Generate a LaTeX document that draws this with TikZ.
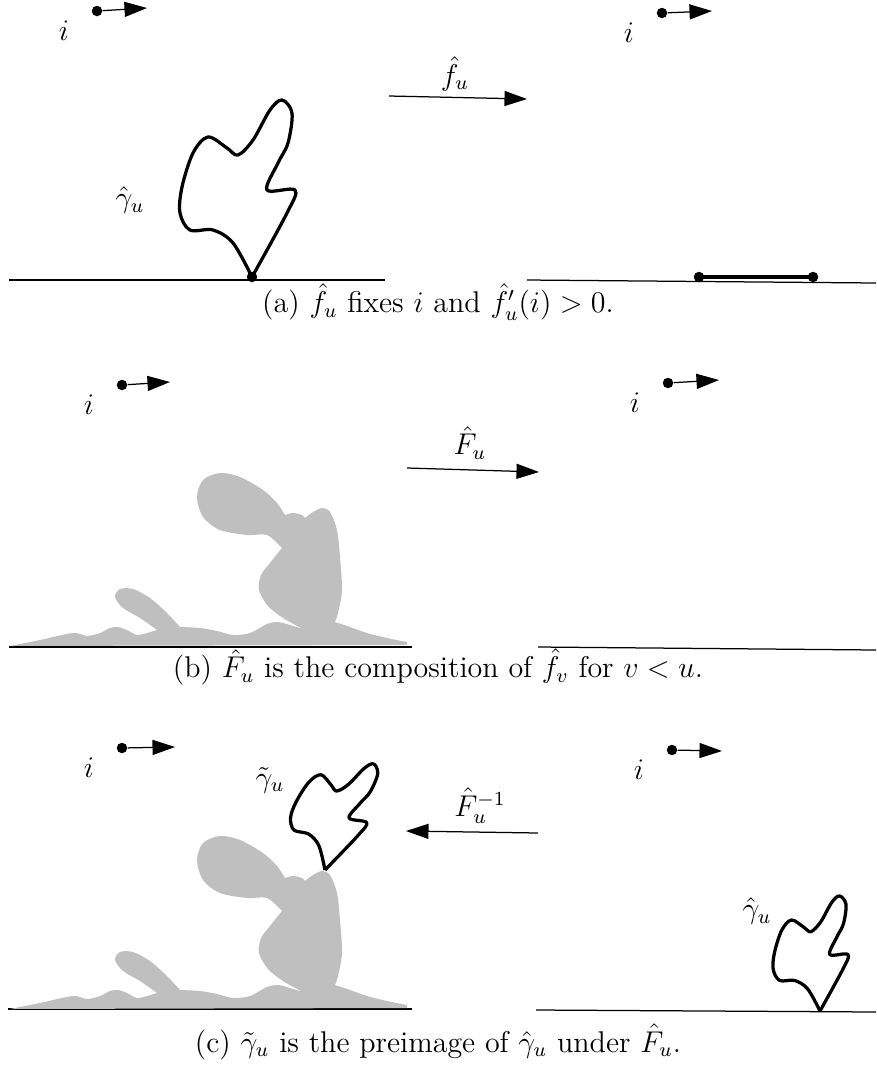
\documentclass[tikz,border=0pt]{standalone}
\usetikzlibrary{arrows.meta}

\tikzset{
  curva/.style={line width=1.3pt, line join=round},
  seta/.style={-{Triangle[length=9pt,width=6pt]}, line width=0.5pt},
  chao/.style={line width=0.5pt},
  mancha/.style={gray!50},
  ponto/.style={circle, fill, inner sep=0pt, minimum size=4.2pt}
}

% curva gama, relativa ao ponto de base
\newcommand{\curvagama}[1]{%
  \draw[curva, #1] plot[smooth, tension=0.55] coordinates {(0,0) (-19,-34) (-39,-47) (-62,-47) (-72,-64) (-70,-90) (-59,-124) (-44,-140) (-25,-129) (-14,-122) (1,-137) (18,-167) (30,-177) (40,-164) (36,-134) (26,-114) (15,-87) (43,-87) (35,-64) (0,0)};}

% mancha cinzenta (coordenadas do painel b)
\newcommand{\manchacinza}[1]{%
  \fill[mancha, #1]
    plot[smooth] coordinates {(10,646) (40,640) (73,633) (87,636) (100,633) (110,628) (118,627) (127,630) (137,635) (147,633) (157,630)}
    -- plot[smooth] coordinates {(157,630) (140,618) (123,608) (115,597) (120,589) (133,589) (150,598) (167,613) (180,627)}
    -- plot[smooth] coordinates {(180,627) (200,628) (217,631) (233,635) (250,633) (267,624) (278,622) (290,625) (303,629)}
    -- plot[smooth] coordinates {(303,629) (283,618) (268,606) (259,590) (261,575) (270,563) (282,548)}
    -- plot[smooth] coordinates {(282,548) (267,535) (247,535) (220,530) (203,517) (197,497) (203,480) (220,473) (240,477) (263,490) (277,503) (285,515)}
    -- plot[smooth] coordinates {(285,515) (293,513) (302,515) (305,518)}
    -- plot[smooth] coordinates {(305,518) (313,512) (322,508) (330,512) (337,530) (340,557) (342,590) (338,613) (335,622)}
    -- plot[smooth] coordinates {(335,622) (350,627) (367,633) (387,638) (407,642)}
    -- (407,645) -- cycle;}

\begin{document}
\begin{tikzpicture}[x=0.4pt, y=-0.4pt, every node/.style={font=\large}]
  \useasboundingbox (0,0) rectangle (876,1074);

  % Pontos i e a direcao
  \foreach \n/\px/\py/\qx/\qy in {a1/97/11/147/8, a2/662/13/712/11, b1/122/385/170/382, b2/668/383/719/380, c1/122/748/175/747, c2/672/750/722/751} {
    \node[ponto] (p\n) at (\px,\py) {};
    \coordinate (q\n) at (\qx,\qy);
    \draw[seta] (p\n) -- (q\n);
    \node (i\n) at (\px-33,\py+20) {$i$};
  }

  % Linhas de base
  \foreach \n/\lx/\ly/\rx/\ry in {a1/9/280/385/280, a2/527/280/876/283, b1/9/647/412/647, b2/538/647/876/650, c1/8/1009/412/1009, c2/536/1010/876/1012} {
    \coordinate (l\n) at (\lx,\ly);
    \coordinate (r\n) at (\rx,\ry);
    \draw[chao] (l\n) -- (r\n);
  }

  % --- Painel (a)
  \curvagama{shift={(252,277)}}
  \node[ponto] (g0) at (252,277) {};
  \node (ga) at (130,200) {$\hat\gamma_u$};
  \node[ponto] (s1) at (699,277) {};
  \node[ponto] (s2) at (813,277) {};
  \draw[curva] (s1.center) -- (s2.center);
  \coordinate (fa) at (389,96);
  \coordinate (fb) at (527,99);
  \draw[seta] (fa) -- (fb);
  \node (lf) at (455,74) {$\hat f_u$};
  \node (capa) at (438,302) {(a) $\hat f_u$ fixes $i$ and $\hat f_u'(i) > 0$.};

  % --- Painel (b)
  \manchacinza{}
  \coordinate (Fa) at (407,468);
  \coordinate (Fb) at (539,472);
  \draw[seta] (Fa) -- (Fb);
  \node (lF) at (470,443) {$\hat F_u$};
  \node (capb) at (438,667) {(b) $\hat F_u$ is the composition of $\hat f_v$ for $v < u$.};

  % --- Painel (c)
  \manchacinza{shift={(0,363)}}
  \curvagama{shift={(325,870)}, rotate=-15, scale=0.65}
  \node (gt) at (270,780) {$\tilde\gamma_u$};
  \curvagama{shift={(820,1011)}, scale=0.65}
  \node (gc) at (757,911) {$\hat\gamma_u$};
  \coordinate (Ia) at (538,833);
  \coordinate (Ib) at (406,831);
  \draw[seta] (Ia) -- (Ib);
  \node (lI) at (480,806) {$\hat F_u^{-1}$};
  \node (capc) at (438,1042) {(c) $\tilde\gamma_u$ is the preimage of $\hat\gamma_u$ under $\hat F_u$.};
\end{tikzpicture}
\end{document}
